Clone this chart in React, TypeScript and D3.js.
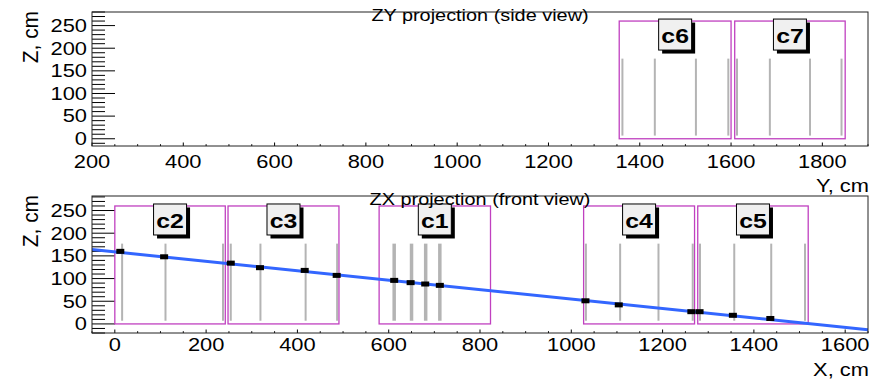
import React from "react";
import * as d3 from "d3";

// tick values
const zTicks = [0, 50, 100, 150, 200, 250];
const yTicksSide = [200, 400, 600, 800, 1000, 1200, 1400, 1600, 1800];
const xTicksFront = [0, 200, 400, 600, 800, 1000, 1200, 1400, 1600];

// chambers (cm)
const sideChambers = [
  { name: "c6", from: 1355, to: 1600 },
  { name: "c7", from: 1608, to: 1850 },
];
const frontChambers = [
  { name: "c2", from: 0, to: 242 },
  { name: "c3", from: 248, to: 491 },
  { name: "c1", from: 579, to: 823 },
  { name: "c4", from: 1027, to: 1270 },
  { name: "c5", from: 1277, to: 1519 },
];
const chamberZ = [0, 260];

// wires
const wireZ = [7, 177];
const sideWires = [1362, 1433, 1523, 1594, 1613, 1685, 1773, 1842];
const frontWires = [16, 111, 237, 254, 319, 418, 487, 1032, 1107, 1191, 1266, 1282, 1357, 1438, 1512];
const c1Wires = [612, 650, 681, 712];

// hits and fitted track (front view)
const hitX = [12, 108, 254, 318, 416, 486, 612, 648, 680, 712, 1031, 1104, 1263, 1281, 1354, 1436];
const hitZ = [160, 148, 134, 124, 118, 107, 96, 91, 88, 85, 51, 42, 27, 27, 19, 12];
const trackX = [-50, 1650];
const trackZ = [164, -13];

const FONT = "Liberation Sans, Arial, Helvetica, sans-serif";
const SX = 1.25; // the reference text is stretched horizontally

const App = () => {
  const svgRef = React.useRef<SVGSVGElement>(null);
  const width = 875;
  const height = 382;
  const left = 92;
  const right = 868;

  React.useEffect(() => {
    const svg = d3.select(svgRef.current);
    svg.selectAll("*").remove();

    const drawPanel = (p: any) => {
      const { x, z, xTicks, title, xTitle, xTitleY, tickLabelY, id } = p;
      const g = svg.append("g");
      const [top, bottom] = [z.range()[1], z.range()[0]];

      g.append("defs")
        .append("clipPath")
        .attr("id", id)
        .append("rect")
        .attr("x", left)
        .attr("y", top)
        .attr("width", right - left)
        .attr("height", bottom - top);

      // z ticks: major 50, minor 10
      const [z0, z1] = z.domain();
      const minor = d3.range(Math.ceil(z0 / 10) * 10, z1 + 0.01, 10);
      g.append("g")
        .selectAll("line")
        .data(minor)
        .join("line")
        .attr("x1", left)
        .attr("x2", (d) => left + (d % 50 === 0 ? 23 : 13))
        .attr("y1", (d) => z(d))
        .attr("y2", (d) => z(d))
        .attr("stroke", "#000")
        .attr("stroke-width", 1);

      g.append("g")
        .selectAll("text")
        .data(zTicks)
        .join("text")
        .attr("transform", (d) => `translate(${left - 5},${z(d)}) scale(${SX},1)`)
        .attr("dy", "0.36em")
        .attr("text-anchor", "end")
        .attr("font-family", FONT)
        .attr("font-size", 17.5)
        .text((d) => d);

      // x ticks: major 200, minor 50
      const [x0, x1] = x.domain();
      const xMinor = d3.range(Math.ceil(x0 / 50) * 50, x1 + 0.01, 50);
      g.append("g")
        .selectAll("line")
        .data(xMinor)
        .join("line")
        .attr("x1", (d) => x(d))
        .attr("x2", (d) => x(d))
        .attr("y1", bottom)
        .attr("y2", (d) => bottom - (d % 200 === 0 ? 3.5 : 1.8))
        .attr("stroke", "#000")
        .attr("stroke-width", 1);

      g.append("g")
        .selectAll("text")
        .data(xTicks)
        .join("text")
        .attr("transform", (d) => `translate(${x(d)},${tickLabelY}) scale(${SX},1)`)
        .attr("text-anchor", "middle")
        .attr("font-family", FONT)
        .attr("font-size", 17.5)
        .text((d) => d);

      // chambers
      const ch = g.append("g").attr("clip-path", `url(#${id})`);
      ch.selectAll("rect")
        .data(p.chambers)
        .join("rect")
        .attr("x", (d: any) => x(d.from))
        .attr("y", z(chamberZ[1]))
        .attr("width", (d: any) => x(d.to) - x(d.from))
        .attr("height", z(chamberZ[0]) - z(chamberZ[1]))
        .attr("fill", "none")
        .attr("stroke", "#c040c0")
        .attr("stroke-width", 1.3);

      // wires
      const wires = [
        ...p.wires.map((w: number) => ({ w, thick: false })),
        ...(p.thickWires || []).map((w: number) => ({ w, thick: true })),
      ];
      ch.append("g")
        .selectAll("line")
        .data(wires)
        .join("line")
        .attr("x1", (d: any) => x(d.w))
        .attr("x2", (d: any) => x(d.w))
        .attr("y1", z(wireZ[0]))
        .attr("y2", z(wireZ[1]))
        .attr("stroke", "#b4b4b4")
        .attr("stroke-width", (d: any) => (d.thick ? 3.5 : 2));

      // track + hits
      if (p.track) {
        const line = d3
          .line<number>()
          .x((d) => x(trackX[d]))
          .y((d) => z(trackZ[d]));
        ch.append("path")
          .datum([0, 1])
          .attr("d", line)
          .attr("fill", "none")
          .attr("stroke", "#3366ff")
          .attr("stroke-width", 3);

        ch.append("g")
          .selectAll("rect")
          .data(hitX.map((hx, i) => [hx, hitZ[i]]))
          .join("rect")
          .attr("x", (d) => x(d[0]) - 4)
          .attr("y", (d) => z(d[1]) - 2.5)
          .attr("width", 8)
          .attr("height", 5)
          .attr("fill", "#000");
      }

      // frame
      g.append("rect")
        .attr("x", left)
        .attr("y", top)
        .attr("width", right - left)
        .attr("height", bottom - top)
        .attr("fill", "none")
        .attr("stroke", "#222")
        .attr("stroke-width", 1);

      // chamber labels
      const lab = g
        .append("g")
        .selectAll("g")
        .data(p.chambers)
        .join("g")
        .attr(
          "transform",
          (d: any) => `translate(${(x(d.from) + x(d.to)) / 2},${z(chamberZ[1]) - 2})`
        );
      lab.append("rect")
        .attr("x", -16.5 + 3.5)
        .attr("y", 3.5)
        .attr("width", 33)
        .attr("height", 31)
        .attr("fill", "#000");
      lab.append("rect")
        .attr("x", -16.5)
        .attr("y", 0)
        .attr("width", 33)
        .attr("height", 31)
        .attr("fill", "#f0f0f0")
        .attr("stroke", "#000")
        .attr("stroke-width", 1);
      lab.append("text")
        .attr("transform", `translate(0,24) scale(1.18,1)`)
        .attr("text-anchor", "middle")
        .attr("font-family", FONT)
        .attr("font-weight", "bold")
        .attr("font-size", 21)
        .text((d: any) => d.name);

      // titles
      g.append("text")
        .attr("transform", `translate(${(left + right) / 2},${top + 8.5}) scale(1.22,1)`)
        .attr("text-anchor", "middle")
        .attr("font-family", FONT)
        .attr("font-size", 16.3)
        .text(title);

      g.append("text")
        .attr("transform", `translate(${right + 1},${xTitleY}) scale(${SX},1)`)
        .attr("text-anchor", "end")
        .attr("font-family", FONT)
        .attr("font-size", 17.5)
        .text(xTitle);

      g.append("text")
        .attr("transform", `translate(38,${top - 1}) rotate(-90) scale(1.1,1.2)`)
        .attr("text-anchor", "end")
        .attr("font-family", FONT)
        .attr("font-size", 19)
        .text("Z, cm");
    };

    drawPanel({
      id: "clipSide",
      x: d3.scaleLinear().domain([200, 1900]).range([left, right]),
      z: d3.scaleLinear().domain([-16, 280]).range([146, 12]),
      xTicks: yTicksSide,
      title: "ZY projection (side view)",
      xTitle: "Y, cm",
      xTitleY: 192,
      tickLabelY: 168,
      chambers: sideChambers,
      wires: sideWires,
    });

    drawPanel({
      id: "clipFront",
      x: d3.scaleLinear().domain([-50, 1650]).range([left, right]),
      z: d3.scaleLinear().domain([-20, 282]).range([333, 196]),
      xTicks: xTicksFront,
      title: "ZX projection (front view)",
      xTitle: "X, cm",
      xTitleY: 376,
      tickLabelY: 351,
      chambers: frontChambers,
      wires: frontWires,
      thickWires: c1Wires,
      track: true,
    });
  }, []);

  return (
    <svg
      ref={svgRef}
      width={width}
      height={height}
      style={{ position: "absolute", left: 0, top: 0, background: "#fff" }}
    />
  );
};

export default App;
